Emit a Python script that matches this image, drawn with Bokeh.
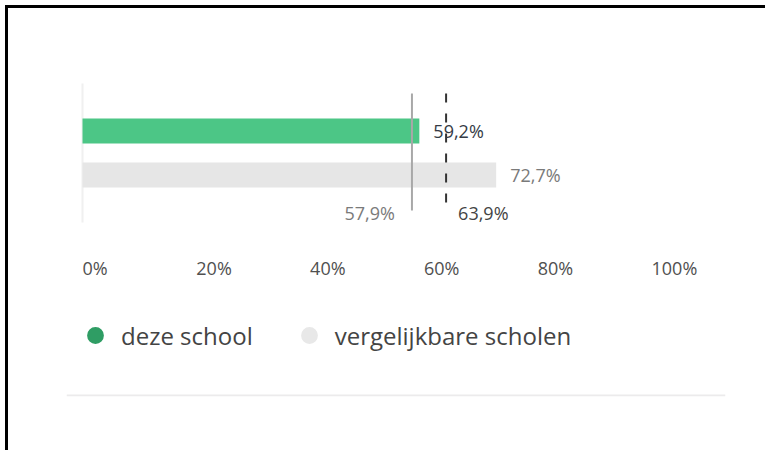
from bokeh.plotting import figure
from bokeh.models import Range1d, ColumnDataSource, Legend, LegendItem, Span
from bokeh.core.properties import value
from bokeh.embed import file_html
from bokeh.resources import INLINE

# ---- data ----
series = ["deze school", "vergelijkbare scholen"]
scores = [59.2, 72.7]
score_labels = ["59,2%", "72,7%"]
ref_values = [57.9, 63.9]
ref_labels = ["57,9%", "63,9%"]
tick_values = [0, 20, 40, 60, 80, 100]
tick_labels = ["0%", "20%", "40%", "60%", "80%", "100%"]

FONT = "Open Sans"
W, H = 760, 445

p = figure(width=W, height=H, output_backend="svg", toolbar_location=None,
           x_axis_location=None, y_axis_location=None,
           x_range=Range1d(-2.812, 113.005), y_range=Range1d(6.034, -2.511),
           min_border_left=58, min_border_right=43, min_border_top=12, min_border_bottom=57)
p.outline_line_color = None
p.grid.visible = False
p.background_fill_color = "white"
p.border_fill_color = "white"
p.styles = {"border-top": "3px solid black", "border-left": "3px solid black",
            "margin-top": "5px", "margin-left": "5px"}

rows = list(range(len(series)))

# light baseline at 0
p.segment(x0=[0], y0=[-1.079], x1=[0], y1=[2.08], line_color="#f0f0f0", line_width=2)

# bars
src = ColumnDataSource(dict(y=rows, right=scores, color=["#4cc686", "#e6e6e6"],
                            lab=score_labels, lc=["#353b45", "#7a7a7a"]))
p.hbar(y="y", left=0, right="right", height=0.568, fill_color="color", line_color=None, source=src)

# reference lines
p.segment(x0=[ref_values[0]], y0=[-0.852], x1=[ref_values[0]], y1=[1.807],
          line_color="#a8a8a8", line_width=2)
p.segment(x0=[ref_values[1]], y0=[-0.852], x1=[ref_values[1]], y1=[1.807],
          line_color="#333333", line_width=2, line_dash="9 11")

# value labels
p.text(x="right", y="y", text="lab", x_offset=14, text_color="lc", source=src,
       text_font=value(FONT), text_font_size="18px", text_baseline="middle", text_align="left")
p.text(x=[ref_values[0]], y=[1.853], text=[ref_labels[0]], x_offset=-17, text_color="#7a7a7a",
       text_font=value(FONT), text_font_size="18px", text_baseline="middle", text_align="right")
p.text(x=[ref_values[1]], y=[1.853], text=[ref_labels[1]], x_offset=12, text_color="#444444",
       text_font=value(FONT), text_font_size="18px", text_baseline="middle", text_align="left")

# tick labels
p.text(x=tick_values, y=[3.125] * len(tick_values), text=tick_labels, text_color="#505050",
       text_font=value(FONT), text_font_size="18px", text_baseline="middle", text_align="left")

# separator
p.add_layout(Span(location=6.011, dimension="width", line_color="#ecebec", line_width=2))

# legend markers (size 0 on the plot; legend draws its own glyph)
r1 = p.scatter(x=[scores[0]], y=[rows[0]], size=0, marker="circle", fill_color="#2f9d64", line_color=None)
r2 = p.scatter(x=[scores[1]], y=[rows[1]], size=0, marker="circle", fill_color="#e8e8e8", line_color=None)
legend = Legend(items=[LegendItem(label=series[0], renderers=[r1], index=0),
                       LegendItem(label=series[1], renderers=[r2], index=0)],
                orientation="horizontal", location=(8, 40),
                glyph_width=42, glyph_height=42, label_standoff=5, spacing=35,
                padding=0, margin=0, border_line_color=None, background_fill_alpha=0,
                label_text_font=FONT, label_text_font_size="24px", label_text_color="#444444")
p.add_layout(legend)

open("out.html", "w").write(file_html(p, INLINE))
